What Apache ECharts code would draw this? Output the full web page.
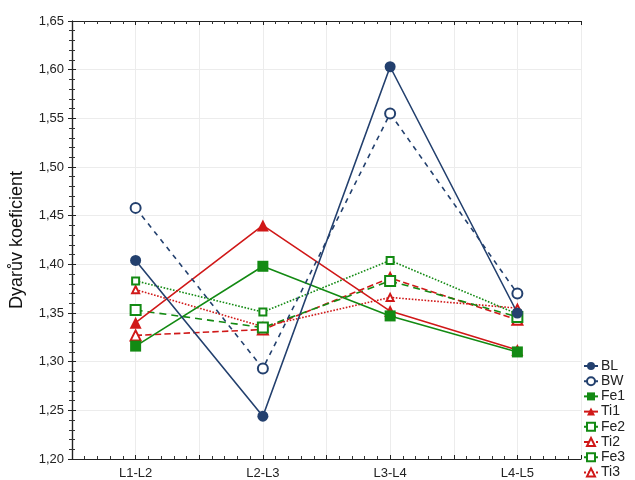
<!DOCTYPE html>
<html><head><meta charset="utf-8">
<script src="https://cdn.jsdelivr.net/npm/echarts@6/dist/echarts.min.js"></script>
<style>html,body{margin:0;padding:0;background:#fff;overflow:hidden}#c{width:635px;height:480px}</style>
</head><body><div id="c"></div>
<script>
var categories = ['L1-L2', 'L2-L3', 'L3-L4', 'L4-L5'];
var BL  = [1.404, 1.244, 1.603, 1.350];
var BW  = [1.458, 1.293, 1.555, 1.370];
var Fe1 = [1.316, 1.398, 1.347, 1.310];
var Ti1 = [1.340, 1.440, 1.352, 1.312];
var Fe2 = [1.353, 1.335, 1.383, 1.346];
var Ti2 = [1.327, 1.333, 1.386, 1.343];
var Fe3 = [1.383, 1.351, 1.404, 1.349];
var Ti3 = [1.374, 1.336, 1.366, 1.355];
var yTicks = [1.20, 1.25, 1.30, 1.35, 1.40, 1.45, 1.50, 1.55, 1.60, 1.65];

var NAVY = '#23406e', GREEN = '#138a13', RED = '#d01818';
function pts(arr){ return arr.map(function(v,i){ return [i+0.5, v]; }); }
function mk(name, data, color, lineType, symbol, size){
  return {
    name: name, type: 'line', data: pts(data), xAxisIndex: 0, yAxisIndex: 0,
    symbol: symbol, symbolSize: size, showSymbol: true,
    lineStyle: {color: color, width: 1.6, type: lineType},
    itemStyle: {color: color, borderColor: color, borderWidth: symbol.indexOf('empty')===0 ? 1.5 : 0},
    emphasis: {disabled: true}, animation: false
  };
}
var fmt = function(v){ return v.toFixed(2).replace('.', ','); };
var axisLine = {show: true, lineStyle: {color: '#222', width: 1.2}};
var chart = echarts.init(document.getElementById('c'), null, {renderer: 'canvas'});
chart.setOption({
  animation: false,
  backgroundColor: '#fff',
  grid: {left: 68, right: 54, top: 21, bottom: 19, containLabel: false},
  xAxis: [{
    type: 'value', min: 0, max: 4, interval: 0.5, position: 'bottom',
    axisLine: axisLine,
    axisTick: {show: true, inside: true, length: 4, lineStyle: {color: '#222'}},
    minorTick: {show: true, splitNumber: 5, length: 3, lineStyle: {color: '#333'}},
    splitLine: {show: true, lineStyle: {color: '#ececec', width: 1}},
    axisLabel: {
      show: true, margin: 8, color: '#222', fontSize: 13, fontFamily: 'Liberation Sans, Arial',
      formatter: function(v){ var i = Math.floor(v); return (Math.abs(v - i - 0.5) < 1e-6 && categories[i]) ? categories[i] : ''; }
    }
  }, {
    type: 'value', min: 0, max: 4, interval: 0.5, position: 'top',
    axisLine: axisLine,
    axisTick: {show: true, inside: true, length: 4, lineStyle: {color: '#222'}},
    minorTick: {show: true, splitNumber: 5, length: 3, lineStyle: {color: '#333'}},
    splitLine: {show: false}, axisLabel: {show: false}
  }],
  yAxis: [{
    type: 'value', min: yTicks[0], max: yTicks[yTicks.length-1], interval: 0.05, position: 'left',
    name: 'Dyarův koeficient', nameLocation: 'middle', nameGap: 46,
    nameTextStyle: {fontSize: 18, color: '#111', fontFamily: 'Liberation Sans, Arial'},
    axisLine: axisLine,
    axisTick: {show: true, inside: true, length: 4, lineStyle: {color: '#222'}},
    minorTick: {show: true, splitNumber: 5, length: 3, lineStyle: {color: '#333'}},
    splitLine: {show: true, lineStyle: {color: '#ececec', width: 1}},
    axisLabel: {color: '#222', fontSize: 13, margin: 8, fontFamily: 'Liberation Sans, Arial', formatter: fmt}
  }, {
    type: 'value', min: yTicks[0], max: yTicks[yTicks.length-1], interval: 0.05, position: 'right',
    axisLine: axisLine,
    axisTick: {show: true, inside: true, length: 4, lineStyle: {color: '#222'}},
    minorTick: {show: true, splitNumber: 5, length: 3, lineStyle: {color: '#333'}},
    splitLine: {show: false}, axisLabel: {show: false}
  }],
  legend: {
    orient: 'vertical', left: 583, top: 359, padding: 0, itemWidth: 14, itemHeight: 10, itemGap: 1.2,
    textStyle: {fontSize: 14, color: '#222', fontFamily: 'Liberation Sans, Arial', padding: [0,0,0,-2]},
    data: ['BL','BW','Fe1','Ti1','Fe2','Ti2','Fe3','Ti3']
  },
  series: [
    mk('Ti3', Ti3, RED, 'dotted', 'emptyTriangle', 7),
    mk('Fe3', Fe3, GREEN, 'dotted', 'emptyRect', 7),
    mk('Ti2', Ti2, RED, 'dashed', 'emptyTriangle', 10),
    mk('Fe2', Fe2, GREEN, [7, 5], 'emptyRect', 10),
    mk('Ti1', Ti1, RED, 'solid', 'triangle', 12),
    mk('Fe1', Fe1, GREEN, 'solid', 'rect', 11),
    mk('BW', BW, NAVY, [5, 5], 'emptyCircle', 10),
    mk('BL', BL, NAVY, 'solid', 'circle', 11)
  ]
});
</script></body></html>
